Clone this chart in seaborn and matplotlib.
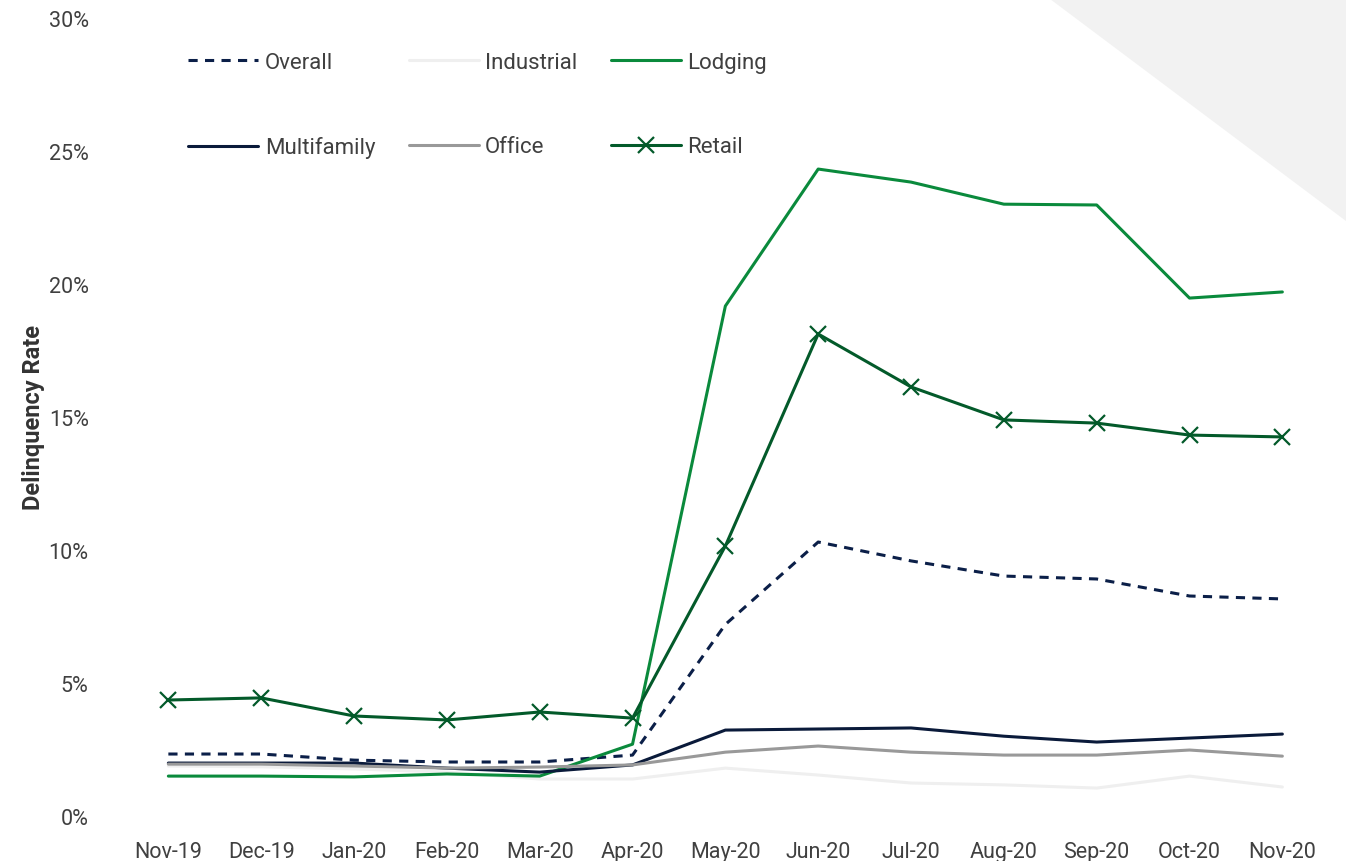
import matplotlib
matplotlib.use("Agg")
import matplotlib.pyplot as plt
import seaborn as sns
import pandas as pd
from matplotlib.ticker import FuncFormatter
from matplotlib.patches import Polygon

months = ["Nov-19", "Dec-19", "Jan-20", "Feb-20", "Mar-20", "Apr-20", "May-20",
          "Jun-20", "Jul-20", "Aug-20", "Sep-20", "Oct-20", "Nov-20"]

# delinquency rate, percent
overall = [2.33, 2.33, 2.10, 2.03, 2.03, 2.29, 7.20, 10.30, 9.59, 9.02, 8.91, 8.27, 8.16]
industrial = [1.88, 1.85, 1.77, 1.65, 1.39, 1.39, 1.80, 1.54, 1.24, 1.17, 1.05, 1.50, 1.09]
lodging = [1.50, 1.50, 1.47, 1.58, 1.50, 2.70, 19.17, 24.32, 23.83, 23.00, 22.97, 19.47, 19.70]
multifamily = [1.99, 1.99, 1.99, 1.80, 1.65, 1.92, 3.23, 3.27, 3.31, 3.00, 2.78, 2.93, 3.08]
office = [1.95, 1.95, 1.88, 1.80, 1.84, 1.92, 2.40, 2.63, 2.40, 2.29, 2.29, 2.48, 2.25]
retail = [4.36, 4.44, 3.76, 3.61, 3.91, 3.68, 10.15, 18.12, 16.13, 14.89, 14.77, 14.32, 14.25]

sns.set_style("white")
plt.rcParams['font.family'] = ['Roboto', 'DejaVu Sans']

fig = plt.figure(figsize=(13.46, 8.62), dpi=100)
# grey corner triangle
fig.patches.append(Polygon([(1050 / 1346, 1.0), (1.0, 1.0), (1.0, 1 - 222 / 862)],
                           closed=True, transform=fig.transFigure,
                           facecolor="#f2f2f2", edgecolor="none", zorder=0))

ax = fig.add_axes([0.0906, 0.0522, 0.8966, 0.9258])
ax.set_facecolor("none")

idx = list(range(len(months)))
series = [
    ("Overall", overall, "#0b1f48", (0, (3, 2.4)), None),
    ("Industrial", industrial, "#efefef", "-", None),
    ("Lodging", lodging, "#0a8a3c", "-", None),
    ("Multifamily", multifamily, "#0a1a3a", "-", None),
    ("Office", office, "#999999", "-", None),
    ("Retail", retail, "#035a2a", "-", "x"),
]
handles = {}
for name, vals, col, ls, mk in series:
    df = pd.DataFrame({"x": idx, "y": vals})
    sns.lineplot(data=df, x="x", y="y", ax=ax, color=col, linestyle=ls,
                 marker=mk, markersize=11, markeredgewidth=1.6,
                 markeredgecolor=col, markerfacecolor=col,
                 linewidth=2.2, label=name)
    handles[name] = ax.get_lines()[-1]

ax.set_xlim(-0.5, len(months) - 0.5)
ax.set_ylim(0, 30)
ax.set_xticks(idx)
ax.set_xticklabels(months)
ax.set_yticks([0, 5, 10, 15, 20, 25, 30])
ax.yaxis.set_major_formatter(FuncFormatter(lambda v, p: f"{v:.0f}%"))
ax.tick_params(axis="both", labelsize=15.5, labelcolor="#404040", length=0)
ax.tick_params(axis="y", pad=24)
ax.tick_params(axis="x", pad=18)
for s in ax.spines.values():
    s.set_visible(False)
ax.set_xlabel("")
ax.set_ylabel("Delinquency Rate", fontsize=17, fontweight="semibold", color="#333333")
ax.yaxis.set_label_coords(-0.064, 0.5)

order = ["Overall", "Multifamily", "Industrial", "Office", "Lodging", "Retail"]
ax.legend([handles[n] for n in order], order, ncol=3, frameon=False,
          loc="upper left", bbox_to_anchor=(168 / 1346, 1 - 33 / 862),
          bbox_transform=fig.transFigure,
          fontsize=16, handlelength=3.15, labelspacing=2.85, columnspacing=1.5,
          handletextpad=0.3, labelcolor="#404040")

fig.savefig("out.png", dpi=100)
